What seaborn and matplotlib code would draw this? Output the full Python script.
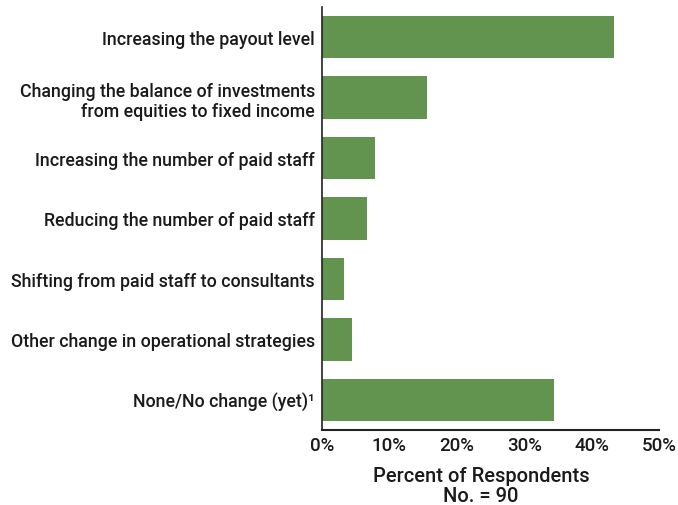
import matplotlib
matplotlib.use("Agg")
import matplotlib.pyplot as plt
import seaborn as sns
import pandas as pd

categories = [
    "Increasing the payout level",
    "Changing the balance of investments\nfrom equities to fixed income",
    "Increasing the number of paid staff",
    "Reducing the number of paid staff",
    "Shifting from paid staff to consultants",
    "Other change in operational strategies",
    "None/No change (yet)\u00b9",
]
percent = [43.3, 15.6, 7.8, 6.7, 3.3, 4.4, 34.4]
x_ticks = [0, 10, 20, 30, 40, 50]

df = pd.DataFrame({"category": categories, "percent": percent})

sns.set_theme(style="white")
plt.rcParams["font.family"] = ["Roboto", "DejaVu Sans"]

fig = plt.figure(figsize=(6.78, 5.06), dpi=100)
ax = fig.add_axes([322 / 678, 1 - 431 / 506, (659 - 322) / 678, (431 - 8) / 506])

sns.barplot(data=df, x="percent", y="category", orient="h",
            color="#63944f", saturation=1, width=0.7, linewidth=0, ax=ax)

ax.set_xlim(0, 50)
ax.set_ylim(6.5, -0.5)
ax.set_xticks(x_ticks)
ax.set_xticklabels([f"{t}%" for t in x_ticks], fontsize=13.5, fontweight="medium", color="#1a1a1a")
ax.tick_params(axis="x", direction="in", length=9, width=1.5, color="#222222", pad=4)
ax.tick_params(axis="y", length=0, pad=5)
for lbl in ax.get_yticklabels():
    lbl.set_fontsize(12.8)
    lbl.set_fontweight("medium")
    lbl.set_color("#1a1a1a")
    lbl.set_horizontalalignment("right")
    lbl.set_multialignment("right")

ax.set_ylabel("")
ax.set_xlabel("Percent of Respondents\nNo. = 90", fontsize=14.5, fontweight="medium",
              color="#1a1a1a", linespacing=1.05)
ax.xaxis.set_label_coords((481 - 322) / (659 - 322), -(467 - 431) / 423, transform=ax.transAxes)
ax.xaxis.label.set_verticalalignment("top")

for side in ["top", "right"]:
    ax.spines[side].set_visible(False)
ax.spines["left"].set_color("#222222")
ax.spines["left"].set_linewidth(1.2)
ax.spines["bottom"].set_color("#222222")
ax.spines["bottom"].set_linewidth(1.5)

fig.savefig("out.png", dpi=100)
